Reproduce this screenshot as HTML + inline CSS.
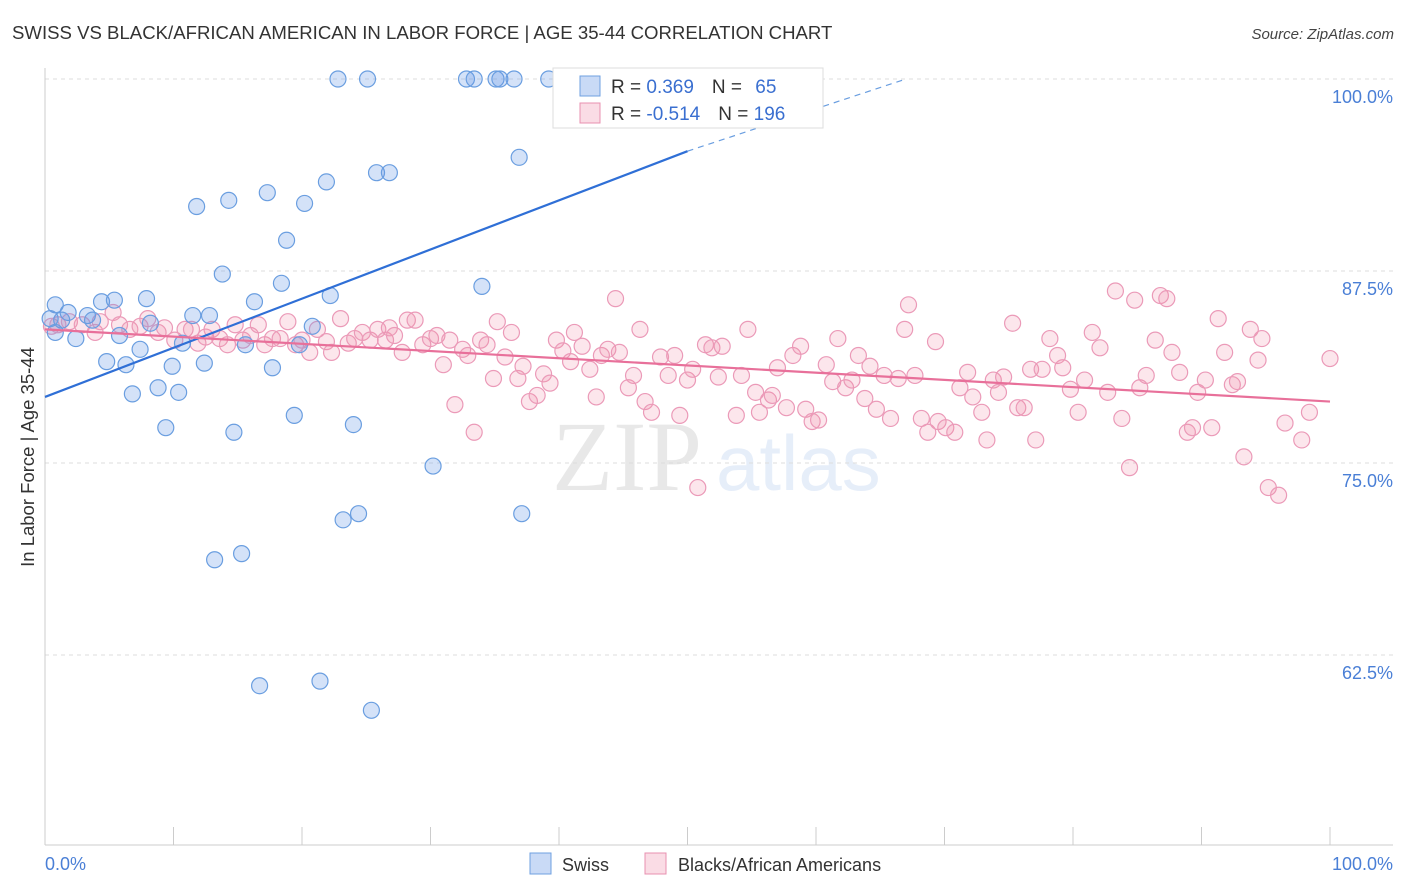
<!DOCTYPE html>
<html><head><meta charset="utf-8">
<style>
body{margin:0;background:#fff;width:1406px;height:892px;overflow:hidden;font-family:"Liberation Sans",sans-serif;}
svg{display:block}
</style></head>
<body>
<svg id="chart" width="1406" height="892" xmlns="http://www.w3.org/2000/svg">
<text x="12" y="39" font-size="18.6" fill="#333">SWISS VS BLACK/AFRICAN AMERICAN IN LABOR FORCE | AGE 35-44 CORRELATION CHART</text>
<text x="1394" y="39" font-size="15" fill="#444" font-style="italic" text-anchor="end">Source: ZipAtlas.com</text>
<g opacity="0.13">
<text x="552" y="490" font-family="Liberation Serif,serif" font-size="100" fill="#555">ZIP</text>
<text x="716" y="490" font-size="78" fill="#4a7fd6">atlas</text>
</g>
<g id="grid"></g>
<g id="axes"></g>
<g id="pink"></g>
<g id="blue"></g>
<g id="trends"></g>
<text transform="translate(34,457) rotate(-90)" font-size="18.5" fill="#333" text-anchor="middle">In Labor Force | Age 35-44</text>
<text x="45" y="870" font-size="18" fill="#4a7fd6">0.0%</text>
<text x="1393" y="870" font-size="18" fill="#4a7fd6" text-anchor="end">100.0%</text>
<g>
<rect x="553" y="68" width="270" height="60" fill="#fff" stroke="#ddd"/>
<rect x="580" y="76" width="20" height="20" fill="rgba(100,150,230,0.35)" stroke="#6fa0e0"/>
<rect x="580" y="103" width="20" height="20" fill="rgba(240,140,170,0.3)" stroke="#e890b0"/>
<text x="611" y="93" font-size="19" fill="#333">R = <tspan fill="#3a6fd0"> 0.369</tspan><tspan dx="18">N = </tspan><tspan fill="#3a6fd0" dx="8">65</tspan></text>
<text x="611" y="120" font-size="19" fill="#333">R = <tspan fill="#3a6fd0">-0.514</tspan><tspan dx="18">N = </tspan><tspan fill="#3a6fd0">196</tspan></text>
</g>
<g>
<rect x="530" y="853" width="21" height="21" fill="rgba(100,150,230,0.35)" stroke="#6fa0e0"/>
<text x="562" y="871" font-size="18" fill="#333">Swiss</text>
<rect x="645" y="853" width="21" height="21" fill="rgba(240,140,170,0.3)" stroke="#e890b0"/>
<text x="678" y="871" font-size="18" fill="#333">Blacks/African Americans</text>
</g>
</svg>
<script>
const yTicks=[100,87.5,75,62.5];
const yTickLabels=["100.0%","87.5%","75.0%","62.5%"];
const xTicks=[0,10,20,30,40,50,60,70,80,90,100];
const blueX=[22.8,25.1,32.8,33.4,35.1,35.4,36.5,39.2,47.2,36.9,25.8,26.8,21.9,17.3,14.3,11.8,20.2,18.8,13.8,18.4,34.0,22.2,7.9,4.4,5.4,0.8,16.3,11.5,12.8,1.8,3.3,1.3,0.4,0.8,2.4,3.7,5.8,8.2,10.7,15.6,19.8,20.8,7.4,4.8,6.3,9.9,12.4,17.7,6.8,8.8,10.4,9.4,14.7,19.4,24.0,30.2,23.2,24.4,37.1,15.3,13.2,16.7,21.4,25.4];
const blueY=[100,100,100,100,100,100,100,100,100,94.9,93.9,93.9,93.3,92.6,92.1,91.7,91.9,89.5,87.3,86.7,86.5,85.9,85.7,85.5,85.6,85.3,85.5,84.6,84.6,84.8,84.6,84.3,84.4,83.5,83.1,84.3,83.3,84.1,82.8,82.7,82.7,83.9,82.4,81.6,81.4,81.3,81.5,81.2,79.5,79.9,79.6,77.3,77.0,78.1,77.5,74.8,71.3,71.7,71.7,69.1,68.7,60.5,60.8,58.9];
const pinkX=[0.5,1.0,1.9,2.9,3.9,4.3,5.3,5.8,6.6,7.4,8.0,8.8,9.3,10.1,10.9,11.4,11.9,12.5,13.0,13.6,14.2,14.8,15.4,16.0,16.6,17.1,17.7,18.3,18.9,19.5,20.0,20.6,21.2,21.9,22.3,23.0,23.6,24.1,24.7,25.3,25.9,26.5,26.8,27.2,27.8,28.2,28.8,29.4,30.0,30.5,31.0,31.5,31.9,32.5,32.9,33.4,33.9,34.4,34.9,35.2,35.8,36.3,36.8,37.2,37.7,38.3,38.8,39.3,39.8,40.3,40.9,41.2,41.8,42.4,42.9,43.3,43.8,44.4,44.7,45.4,45.8,46.3,46.7,47.2,47.9,48.5,49.0,49.4,50.0,50.4,50.8,51.4,51.9,52.4,52.7,53.8,54.2,54.7,55.3,55.6,56.3,56.6,57.0,57.7,58.2,58.8,59.2,59.7,60.2,60.8,61.3,61.7,62.3,62.8,63.3,63.8,64.2,64.7,65.3,65.8,66.4,66.9,67.2,67.7,68.2,68.7,69.3,69.5,70.1,70.8,71.2,71.8,72.2,72.9,73.3,73.8,74.2,74.6,75.3,75.7,76.2,76.7,77.1,77.6,78.2,78.8,79.2,79.8,80.4,80.9,81.5,82.1,82.7,83.3,83.8,84.4,84.8,85.2,85.7,86.4,86.8,87.3,87.7,88.3,88.9,89.3,89.7,90.3,90.8,91.3,91.8,92.4,92.8,93.3,93.8,94.4,94.7,95.2,96.0,96.5,97.8,98.4,100];
const pinkY=[83.9,84.0,84.2,84.0,83.5,84.2,84.8,84.0,83.7,83.9,84.4,83.5,83.8,83.0,83.7,83.7,82.8,83.2,83.7,83.1,82.7,84.0,83.0,83.3,84.0,82.7,83.1,83.1,84.2,82.7,83.0,82.2,83.7,82.9,82.2,84.4,82.8,83.1,83.5,83.0,83.7,83.0,83.8,83.3,82.2,84.3,84.3,82.7,83.1,83.3,81.4,83.0,78.8,82.4,82.0,77.0,83.0,82.7,80.5,84.2,81.9,83.5,80.5,81.3,79.0,79.4,80.8,80.2,83.0,82.3,81.6,83.5,82.6,81.1,79.3,82.0,82.4,85.7,82.2,79.9,80.7,83.7,79.0,78.3,81.9,80.7,82.0,78.1,80.4,81.1,73.4,82.7,82.5,80.6,82.6,78.1,80.7,83.7,79.6,78.3,79.1,79.4,81.2,78.6,82.0,82.6,78.5,77.7,77.8,81.4,80.3,83.1,79.9,80.4,82.0,79.2,81.3,78.5,80.7,77.9,80.5,83.7,85.3,80.7,77.9,77.0,82.9,77.7,77.3,77.0,79.9,80.9,79.3,78.3,76.5,80.4,79.6,80.6,84.1,78.6,78.6,81.1,76.5,81.1,83.1,82.0,81.2,79.8,78.3,80.4,83.5,82.5,79.6,86.2,77.9,74.7,85.6,79.9,80.7,83.0,85.9,85.7,82.2,80.9,77.0,77.3,79.6,80.4,77.3,84.4,82.2,80.1,80.3,75.4,83.7,81.7,83.1,73.4,72.9,77.6,76.5,78.3,81.8];
const blueTrend=[[0,79.3],[50,95.3],[67,100]];
const pinkTrend=[[0,83.7],[100,79.0]];
const NS="http://www.w3.org/2000/svg";
const X0=45,X1=1330,Ytop=79,PX=192/12.5;
const sx=v=>X0+(X1-X0)*v/100;
const sy=v=>Ytop+(100-v)*PX;
function mk(tag,attrs,parent){const e=document.createElementNS(NS,tag);for(const k in attrs)e.setAttribute(k,attrs[k]);parent.appendChild(e);return e;}
const grid=document.getElementById('grid');
yTicks.forEach((t,i)=>{
  const l=mk('line',{x1:X0,x2:1393,y1:sy(t),y2:sy(t),stroke:'#ddd','stroke-dasharray':'4,4'},grid);
  
  
  const tx=mk('text',{x:1393,y:sy(t)+24,'font-size':18,fill:'#4a7fd6','text-anchor':'end'},grid);
  tx.textContent=yTickLabels[i];
  
  
});
const axes=document.getElementById('axes');
mk('line',{x1:X0,x2:X0,y1:68,y2:845,stroke:'#ccc'},axes);
mk('line',{x1:X0,x2:1393,y1:845,y2:845,stroke:'#ccc'},axes);
xTicks.forEach(t=>{
  const l=mk('line',{x1:sx(t),x2:sx(t),y1:827,y2:845,stroke:'#ccc'},axes);
  
  
});
const pg=document.getElementById('pink');
pinkX.forEach((v,i)=>{
  const c=mk('circle',{cx:sx(v),cy:sy(pinkY[i]),r:8,fill:'rgba(240,140,170,0.22)',stroke:'#eb9ab8','stroke-width':1.2},pg);
  
  
});
const bg=document.getElementById('blue');
blueX.forEach((v,i)=>{
  const c=mk('circle',{cx:sx(v),cy:sy(blueY[i]),r:8,fill:'rgba(100,150,230,0.28)',stroke:'#6a9ee0','stroke-width':1.2},bg);
  
  
});
const tg=document.getElementById('trends');
const b1=mk('line',{x1:sx(blueTrend[0][0]),y1:sy(blueTrend[0][1]),x2:sx(blueTrend[1][0]),y2:sy(blueTrend[1][1]),stroke:'#2f6fd6','stroke-width':2.2},tg);


const b2=mk('line',{x1:sx(blueTrend[1][0]),y1:sy(blueTrend[1][1]),x2:sx(blueTrend[2][0]),y2:sy(blueTrend[2][1]),stroke:'#6a9ee0','stroke-width':1.2,'stroke-dasharray':'6,5'},tg);


const p1=mk('line',{x1:sx(pinkTrend[0][0]),y1:sy(pinkTrend[0][1]),x2:sx(pinkTrend[1][0]),y2:sy(pinkTrend[1][1]),stroke:'#e8709a','stroke-width':2.2},tg);


</script>
</body></html>
